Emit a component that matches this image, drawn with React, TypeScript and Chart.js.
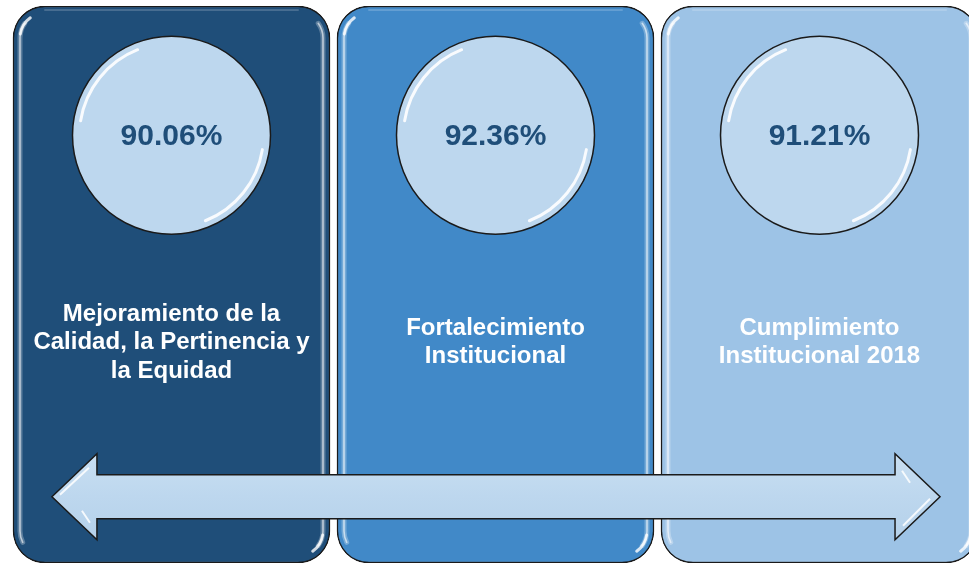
import React, { useEffect, useRef } from "react";
import { Chart, registerables } from "chart.js";

Chart.register(...registerables);

// ---- data ----
const CATEGORIES = [
  "Mejoramiento de la Calidad, la Pertinencia y la Equidad",
  "Fortalecimiento Institucional",
  "Cumplimiento Institucional 2018",
];
const LABEL_LINES = [
  ["Mejoramiento de la", "Calidad, la Pertinencia y", "la Equidad"],
  ["Fortalecimiento", "Institucional"],
  ["Cumplimiento", "Institucional 2018"],
];
const VALUES = [90.06, 92.36, 91.21];
const POSITIONS = [0, 1, 2];
const PANEL_COLORS = ["#1F4E79", "#4189C8", "#9DC3E6"];
const CIRCLE_COLOR = "#BDD7EE";
const VALUE_COLOR = "#1F4E79";

// layout levels on the value (y) scale, 0..100
const PANEL_RANGE: [number, number] = [0, 100];
const CIRCLE_LEVEL = 76.8;
const LABEL_LEVEL = 39.6;
const ARROW_LEVEL = 11.9;
const ARROW_SPAN: [number, number] = [-0.369, 2.372];
const X_MIN = -0.5293;
const X_MAX = 2.4614;

const FONT = '"Liberation Sans", Arial, sans-serif';

function drawArrow(ctx: CanvasRenderingContext2D, x0: number, x1: number, yc: number) {
  const shaft = 22;
  const head = 43;
  const headLen = 45;
  ctx.save();
  ctx.beginPath();
  ctx.moveTo(x0, yc);
  ctx.lineTo(x0 + headLen, yc - head);
  ctx.lineTo(x0 + headLen, yc - shaft);
  ctx.lineTo(x1 - headLen, yc - shaft);
  ctx.lineTo(x1 - headLen, yc - head);
  ctx.lineTo(x1, yc);
  ctx.lineTo(x1 - headLen, yc + head);
  ctx.lineTo(x1 - headLen, yc + shaft);
  ctx.lineTo(x0 + headLen, yc + shaft);
  ctx.lineTo(x0 + headLen, yc + head);
  ctx.closePath();
  const g = ctx.createLinearGradient(0, yc - head, 0, yc + head);
  g.addColorStop(0, "#C9DFF2");
  g.addColorStop(0.5, CIRCLE_COLOR);
  g.addColorStop(1, "#B5D1EA");
  ctx.fillStyle = g;
  ctx.fill();
  ctx.lineWidth = 1.5;
  ctx.strokeStyle = "#1a1a1a";
  ctx.lineJoin = "miter";
  ctx.stroke();
  ctx.strokeStyle = "rgba(255,255,255,0.85)";
  ctx.lineWidth = 2;
  ctx.beginPath();
  ctx.moveTo(x0 + 8, yc - 2);
  ctx.lineTo(x0 + headLen - 8, yc - head + 14);
  ctx.moveTo(x0 + 30, yc + 14);
  ctx.lineTo(x0 + 38, yc + 26);
  ctx.moveTo(x1 - 10, yc + 2);
  ctx.lineTo(x1 - headLen + 8, yc + head - 14);
  ctx.moveTo(x1 - 30, yc - 14);
  ctx.lineTo(x1 - 38, yc - 26);
  ctx.stroke();
  ctx.restore();
}

function sideHighlight(ctx: CanvasRenderingContext2D, left: number, right: number, top: number, bottom: number) {
  const inset = 7;
  const r = 32 - inset;
  const strokes: [number, string][] = [
    [5, "rgba(255,255,255,0.28)"],
    [1.6, "rgba(255,255,255,0.6)"],
  ];
  strokes.forEach(([w, c]) => {
    ctx.lineWidth = w;
    ctx.strokeStyle = c;
    ctx.lineCap = "round";
    // left side
    ctx.beginPath();
    ctx.arc(left + inset + r, top + inset + r, r, Math.PI * 1.2, Math.PI, true);
    ctx.lineTo(left + inset, bottom - inset - r);
    ctx.arc(left + inset + r, bottom - inset - r, r, Math.PI, Math.PI * 0.85, true);
    ctx.stroke();
    // right side
    ctx.beginPath();
    ctx.arc(right - inset - r, top + inset + r, r, Math.PI * 1.8, 0);
    ctx.lineTo(right - inset, bottom - inset - r);
    ctx.arc(right - inset - r, bottom - inset - r, r, 0, Math.PI * 0.2);
    ctx.stroke();
  });
  // bright glints at top-left and bottom-right
  ctx.lineWidth = 3;
  ctx.strokeStyle = "rgba(255,255,255,0.8)";
  ctx.beginPath();
  ctx.arc(left + inset + r, top + inset + r, r, Math.PI * 1.05, Math.PI * 1.3);
  ctx.stroke();
  ctx.beginPath();
  ctx.arc(right - inset - r, bottom - inset - r, r, Math.PI * 0.05, Math.PI * 0.3);
  ctx.stroke();
  // faint top sheen
  ctx.lineWidth = 2;
  ctx.strokeStyle = "rgba(255,255,255,0.18)";
  ctx.beginPath();
  ctx.moveTo(left + 32, top + 4);
  ctx.lineTo(right - 32, top + 4);
  ctx.stroke();
}

const infographicPlugin = {
  id: "infographic",
  afterDatasetDraw(chart: any, args: any) {
    if (args.index !== 0) return;
    const ctx: CanvasRenderingContext2D = chart.ctx;
    const area = chart.chartArea;
    const meta = chart.getDatasetMeta(0);
    ctx.save();
    ctx.beginPath();
    ctx.rect(area.left, 0, area.right - area.left, chart.height);
    ctx.clip();
    meta.data.forEach((bar: any) => {
      const p = bar.getProps(["x", "y", "base", "width"], true);
      sideHighlight(
        ctx,
        p.x - p.width / 2,
        p.x + p.width / 2,
        Math.min(p.y, p.base),
        Math.max(p.y, p.base)
      );
    });
    ctx.restore();
  },
  afterDatasetsDraw(chart: any) {
    const ctx: CanvasRenderingContext2D = chart.ctx;
    const xs = chart.scales.x;
    const ys = chart.scales.y;

    const cm = chart.getDatasetMeta(1);
    cm.data.forEach((pt: any, i: number) => {
      const r = pt.options.radius;
      ctx.save();
      ctx.lineCap = "round";
      ctx.strokeStyle = "rgba(255,255,255,0.9)";
      ctx.lineWidth = 3;
      ctx.beginPath();
      ctx.arc(pt.x, pt.y, r - 7, Math.PI * 1.05, Math.PI * 1.38);
      ctx.stroke();
      ctx.beginPath();
      ctx.arc(pt.x, pt.y, r - 7, Math.PI * 0.05, Math.PI * 0.38);
      ctx.stroke();
      ctx.fillStyle = VALUE_COLOR;
      ctx.font = `bold 30px ${FONT}`;
      ctx.textAlign = "center";
      ctx.textBaseline = "middle";
      ctx.fillText(VALUES[i].toFixed(2) + "%", pt.x, pt.y + 2);
      ctx.restore();
    });

    drawArrow(
      ctx,
      xs.getPixelForValue(ARROW_SPAN[0]),
      xs.getPixelForValue(ARROW_SPAN[1]),
      ys.getPixelForValue(ARROW_LEVEL)
    );

    ctx.save();
    ctx.fillStyle = "#ffffff";
    ctx.font = `bold 24px ${FONT}`;
    ctx.textAlign = "center";
    ctx.textBaseline = "middle";
    LABEL_LINES.forEach((lines, i) => {
      const cx = xs.getPixelForValue(POSITIONS[i]);
      const cy = ys.getPixelForValue(LABEL_LEVEL);
      lines.forEach((line, j) => {
        ctx.fillText(line, cx, cy + (j - (lines.length - 1) / 2) * 28.5);
      });
    });
    ctx.restore();
  },
};

export default function App() {
  const ref = useRef<HTMLCanvasElement | null>(null);

  useEffect(() => {
    const canvas = ref.current;
    if (!canvas) return;
    const chart = new Chart(canvas, {
      type: "bar",
      data: {
        labels: CATEGORIES,
        datasets: [
          {
            type: "bar",
            label: "Ejes",
            data: POSITIONS.map((p) => ({ x: p, y: PANEL_RANGE })) as any,
            backgroundColor: PANEL_COLORS,
            borderColor: "#1a1a1a",
            borderWidth: 1.5,
            borderRadius: 32,
            borderSkipped: false,
            barThickness: 317,
            order: 2,
          } as any,
          {
            type: "scatter",
            label: "Cumplimiento",
            data: POSITIONS.map((p, i) => ({ x: p, y: CIRCLE_LEVEL, v: VALUES[i] })) as any,
            backgroundColor: CIRCLE_COLOR,
            borderColor: "#1a1a1a",
            borderWidth: 1.5,
            pointRadius: 99,
            pointHoverRadius: 99,
            order: 1,
            clip: false,
          } as any,
        ],
      },
      options: {
        responsive: false,
        animation: false,
        devicePixelRatio: 1,
        events: [],
        layout: { autoPadding: false, padding: { top: 6, bottom: 1, left: 0, right: 0 } },
        scales: {
          x: { type: "linear", min: X_MIN, max: X_MAX, display: false, offset: false },
          y: { type: "linear", min: 0, max: 100, display: false },
        },
        plugins: {
          legend: { display: false },
          tooltip: { enabled: false },
        },
      } as any,
      plugins: [infographicPlugin as any],
    });
    return () => chart.destroy();
  }, []);

  return (
    <div style={{ position: "fixed", left: 0, top: 0, width: 969, height: 564, background: "#ffffff" }}>
      <canvas ref={ref} width={969} height={564} style={{ display: "block", width: 969, height: 564 }} />
    </div>
  );
}
